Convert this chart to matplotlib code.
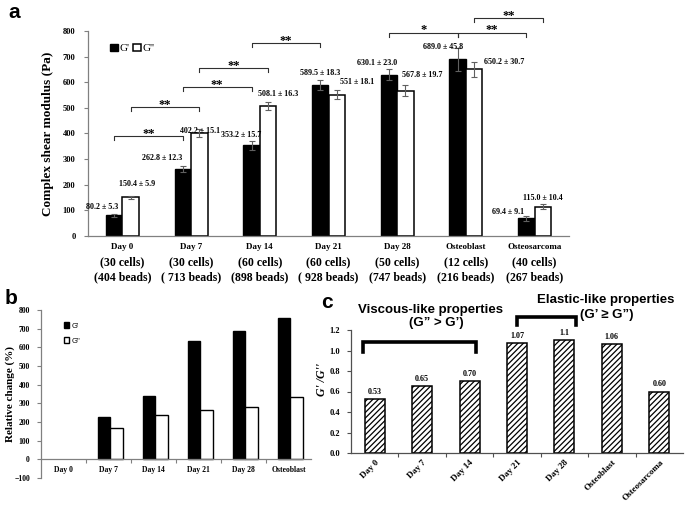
import numpy as np
import matplotlib.pyplot as plt

plt.rcParams['hatch.linewidth'] = 0.9

SERIF = 'Liberation Serif'
SANS = ['Liberation Sans', 'DejaVu Sans']

# ---- panel a data
groups = ["Day 0", "Day 7", "Day 14", "Day 21", "Day 28", "Osteoblast", "Osteosarcoma"]
cells = ["(30 cells)", "(30 cells)", "(60 cells)", "(60 cells)", "(50 cells)", "(12 cells)", "(40 cells)"]
beads = ["(404 beads)", "( 713 beads)", "(898 beads)", "( 928 beads)", "(747 beads)", "(216 beads)", "(267 beads)"]
g1 = [80.2, 262.8, 353.2, 589.5, 630.1, 689.0, 69.4]
g1_err = [5.3, 12.3, 15.7, 18.3, 23.0, 45.8, 9.1]
g2 = [150.4, 402.2, 508.1, 551.0, 567.8, 650.2, 115.0]
g2_err = [5.9, 15.1, 16.3, 18.1, 19.7, 30.7, 10.4]
g1_text = ["80.2 ± 5.3", "262.8 ± 12.3", "353.2 ± 15.7", "589.5 ± 18.3", "630.1 ± 23.0", "689.0 ± 45.8", "69.4 ± 9.1"]
g2_text = ["150.4 ± 5.9", "402.2 ± 15.1", "508.1 ± 16.3", "551 ± 18.1", "567.8 ± 19.7", "650.2 ± 30.7", "115.0 ± 10.4"]
# significance brackets: (group, series, group, series, level, stars)
sig = [(0, 0, 1, 0, 390, '**'), (0, 1, 1, 1, 503, '**'), (1, 0, 2, 0, 581, '**'),
       (1, 1, 2, 1, 656, '**'), (2, 0, 3, 0, 753, '**'), (4, 0, 5, 0, 793, '*'),
       (5, 0, 6, 0, 793, '**'), (5, 1, 6, 1, 851, '**')]

# ---- panel b data
groups_b = groups[:6]
rel_g1 = [0, 228, 340, 635, 686, 759]
rel_g2 = [0, 167, 238, 266, 278, 332]

# ---- panel c data
ratio = [0.53, 0.65, 0.70, 1.07, 1.1, 1.06, 0.60]
ratio_text = ["0.53", "0.65", "0.70", "1.07", "1.1", "1.06", "0.60"]

# label layout for panel a (offset from group centre, height)
g1_lab_dx = [-0.30, -0.42, -0.27, -0.12, -0.29, -0.34, -0.39]
g1_lab_y = [113, 304, 394, 636, 675, 737, 94]
g2_lab_dx = [0.22, 0.13, 0.26, 0.41, 0.37, 0.55, 0.12]
g2_lab_y = [202, 410, 554, 601, 628, 679, 148]

W, H = 685, 509
fig = plt.figure(figsize=(W / 100, H / 100), dpi=100)


def box(x0, x1, ytop, ybot):
    return [x0 / W, 1 - ybot / H, (x1 - x0) / W, (ybot - ytop) / H]


def style_axes(ax, col):
    for s in ['top', 'right']:
        ax.spines[s].set_visible(False)
    for s in ['left', 'bottom']:
        ax.spines[s].set_color(col)
        ax.spines[s].set_linewidth(0.9)


def bold_serif_ticks(ax, size):
    for t in ax.get_yticklabels():
        t.set_fontfamily(SERIF)
        t.set_fontweight('bold')
        t.set_fontsize(size)


# ================= panel a
ax = fig.add_axes(box(88, 569, 31, 236))
style_axes(ax, '#808080')
x = np.arange(len(groups))
w = 0.24
ekw = dict(ecolor='#606060', elinewidth=0.8, capsize=2, capthick=0.8)
ax.bar(x - w / 2, g1, w, color='black', edgecolor='black', yerr=g1_err, error_kw=ekw, label="G'")
ax.bar(x + w / 2, g2, w, color='white', edgecolor='black', linewidth=1.1, yerr=g2_err, error_kw=ekw, label="G''")
ax.set_xlim(-0.5, len(groups) - 0.5)
ax.set_ylim(0, 800)
ax.set_yticks(np.arange(0, 801, 100))
ax.set_xticks(x)
ax.set_xticklabels([])
ax.tick_params(axis='x', length=0)
ax.tick_params(axis='y', length=3, width=0.8, color='#808080', pad=6)
bold_serif_ticks(ax, 6)
ax.set_ylabel('Complex shear modulus (Pa)', fontfamily=SERIF, fontweight='bold', fontsize=9.5, labelpad=6)

tr = ax.get_xaxis_transform()
for i in range(len(groups)):
    ax.text(i, -0.055, groups[i], transform=tr, ha='center', va='center', fontfamily=SERIF, fontweight='bold', fontsize=6.5)
    ax.text(i, -0.128, cells[i], transform=tr, ha='center', va='center', fontfamily=SERIF, fontweight='bold', fontsize=8.5)
    ax.text(i, -0.2, beads[i], transform=tr, ha='center', va='center', fontfamily=SERIF, fontweight='bold', fontsize=8.5)
    ax.text(i + g1_lab_dx[i], g1_lab_y[i], g1_text[i], ha='center', va='center', fontfamily=SERIF, fontweight='bold', fontsize=5.8)
    ax.text(i + g2_lab_dx[i], g2_lab_y[i], g2_text[i], ha='center', va='center', fontfamily=SERIF, fontweight='bold', fontsize=5.8)

off = [-w / 2, w / 2]
for ga, sa, gb, sb, lev, stars in sig:
    xa = ga + off[sa]
    xb = gb + off[sb]
    ax.plot([xa, xa, xb, xb], [lev - 15, lev, lev, lev - 15], color='#303030', lw=0.8, clip_on=False)
    ax.text((xa + xb) / 2, lev + 9, stars, ha='center', va='center', fontfamily=SERIF, fontweight='bold', fontsize=9, clip_on=False)

ax.legend(loc='center left', bbox_to_anchor=(0.035, 0.915), ncol=2, frameon=False,
          handlelength=0.7, handleheight=0.7, handletextpad=0.15, columnspacing=0.3,
          borderpad=0, prop={'family': SERIF, 'size': 8})

fig.text(8 / W, 1 - 12 / H, 'a', fontfamily=SANS, fontweight='bold', fontsize=15, va='center', ha='left')

# ================= panel b
axb = fig.add_axes(box(41, 311, 310, 478))
style_axes(axb, '#808080')
xb = np.arange(len(groups_b))
wb = 0.28
edge1 = ['black' if v else 'none' for v in rel_g1]
edge2 = ['black' if v else 'none' for v in rel_g2]
axb.bar(xb - wb / 2 + 0.04, rel_g1, wb, color='black', edgecolor=edge1, label="G'")
axb.bar(xb + wb / 2 + 0.04, rel_g2, wb, color='white', edgecolor=edge2, linewidth=1.0, label="G''")
axb.set_xlim(-0.5, len(groups_b) - 0.5)
axb.set_ylim(-100, 800)
axb.set_yticks(np.arange(-100, 801, 100))
axb.spines['bottom'].set_position(('data', 0))
axb.set_xticks(xb)
axb.set_xticklabels(groups_b, fontfamily=SERIF, fontweight='bold', fontsize=5.5)
axb.set_xticks(np.arange(0.5, len(groups_b) - 0.5, 1), minor=True)
axb.tick_params(axis='x', which='major', length=0, pad=5)
axb.tick_params(axis='x', which='minor', length=3, width=0.8, color='#808080')
axb.tick_params(axis='y', length=3, width=0.8, color='#808080', pad=5)
bold_serif_ticks(axb, 5.5)
axb.set_ylabel('Relative change (%)', fontfamily=SERIF, fontweight='bold', fontsize=8)
axb.yaxis.set_label_coords(-0.095, 0.5)
leg = axb.legend(loc='upper left', bbox_to_anchor=(0.07, 0.95), frameon=False, handlelength=0.7,
                 handleheight=0.7, handletextpad=0.3, labelspacing=1.0, borderpad=0,
                 prop={'family': SANS, 'size': 5.5})
for p in leg.get_patches():
    p.set_edgecolor('black')
fig.text(5 / W, 1 - 299 / H, 'b', fontfamily=SANS, fontweight='bold', fontsize=15, va='center', ha='left')

# ================= panel c
axc = fig.add_axes(box(351, 683, 330, 453))
style_axes(axc, '#505050')
xc = np.arange(len(groups))
axc.bar(xc, ratio, 0.42, color='white', edgecolor='black', linewidth=1.1, hatch='//////')
axc.set_xlim(-0.5, len(groups) - 0.5)
axc.set_ylim(0, 1.2)
axc.set_yticks(np.arange(0, 1.21, 0.2))
axc.yaxis.set_major_formatter(plt.FormatStrFormatter('%.1f'))
axc.set_xticks(xc)
axc.set_xticklabels(groups, rotation=45, ha='right', rotation_mode='anchor',
                    fontfamily=SERIF, fontweight='bold', fontsize=6.5)
axc.set_xticks(np.arange(0.5, len(groups) - 0.5, 1), minor=True)
axc.tick_params(axis='x', which='major', length=0, pad=4)
axc.tick_params(axis='x', which='minor', length=3, width=0.8, color='#505050')
axc.tick_params(axis='y', length=3, width=0.8, color='#505050', pad=5)
bold_serif_ticks(axc, 6)
axc.set_ylabel("G' /G''", fontfamily=SERIF, fontweight='bold', fontstyle='italic', fontsize=8.5)
axc.yaxis.set_label_coords(-0.07, 0.6)
for i, v in enumerate(ratio):
    axc.text(i, v + 0.03, ratio_text[i], ha='center', va='bottom', fontfamily=SERIF, fontweight='bold', fontsize=5.8)

axc.plot([-0.25, -0.25, 2.14, 2.14], [0.985, 1.083, 1.083, 0.985], color='black', lw=2.6, clip_on=False,
         solid_joinstyle='miter')
axc.plot([3.0, 3.0, 4.24, 4.24], [1.249, 1.327, 1.327, 1.249], color='black', lw=2.6, clip_on=False,
         solid_joinstyle='miter')
axc.text(1.18, 1.395, 'Viscous-like properties', ha='center', va='center', fontfamily=SANS,
         fontweight='bold', fontsize=9.5, clip_on=False)
axc.text(1.29, 1.268, '(G\u201d > G\u2019)', ha='center', va='center', fontfamily=SANS,
         fontweight='bold', fontsize=9.5, clip_on=False)
axc.text(4.86, 1.49, 'Elastic-like properties', ha='center', va='center', fontfamily=SANS,
         fontweight='bold', fontsize=9.5, clip_on=False)
axc.text(4.9, 1.346, '(G\u2019 \u2265 G\u201d)', ha='center', va='center', fontfamily=SANS,
         fontweight='bold', fontsize=9.5, clip_on=False)
fig.text(321 / W, 1 - 302 / H, 'c', fontfamily=SANS, fontweight='bold', fontsize=15, va='center', ha='left')

fig.savefig('out.png', dpi=100)
